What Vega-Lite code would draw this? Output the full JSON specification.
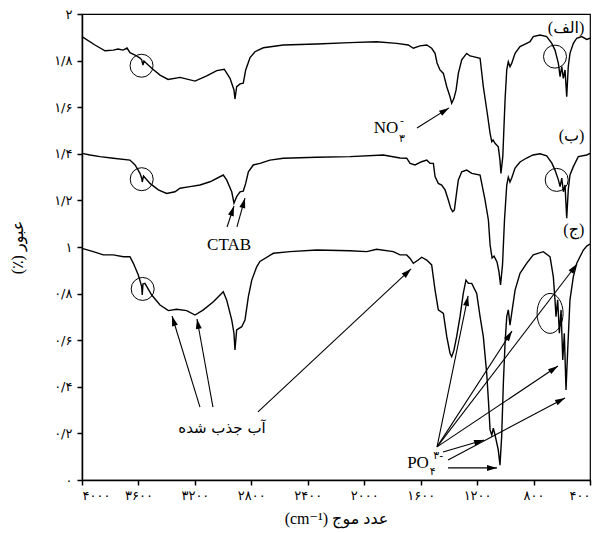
{
  "$schema": "https://vega.github.io/schema/vega-lite/v6.json",
  "width": 508,
  "height": 466,
  "autosize": {"type": "none"},
  "padding": {"left": 82, "top": 14, "right": 10, "bottom": 53},
  "background": "white",
  "config": {
    "view": {"stroke": "black", "strokeWidth": 1.2},
    "axis": {"domainColor": "black", "domainWidth": 1.5, "tickColor": "black", "tickWidth": 1.5, "tickSize": 5, "labelColor": "black", "titleColor": "black", "grid": false, "labelFont": "DejaVu Sans", "labelFontSize": 13, "titleFont": "Liberation Serif, DejaVu Sans", "titleFontSize": 16, "titleFontWeight": "normal"}
  },
  "datasets": {
    "spectra": [
      {"s":"A","wn":4000,"T":1.903},{"s":"A","wn":3908,"T":1.867},{"s":"A","wn":3837,"T":1.842},{"s":"A","wn":3778,"T":1.845},{"s":"A","wn":3745,"T":1.850},{"s":"A","wn":3709,"T":1.845},{"s":"A","wn":3681,"T":1.854},{"s":"A","wn":3660,"T":1.834},{"s":"A","wn":3624,"T":1.824},{"s":"A","wn":3589,"T":1.811},{"s":"A","wn":3577,"T":1.803},{"s":"A","wn":3568,"T":1.781},{"s":"A","wn":3561,"T":1.798},{"s":"A","wn":3506,"T":1.767},{"s":"A","wn":3447,"T":1.738},{"s":"A","wn":3390,"T":1.719},{"s":"A","wn":3305,"T":1.728},{"s":"A","wn":3199,"T":1.712},{"s":"A","wn":3116,"T":1.734},{"s":"A","wn":3045,"T":1.757},{"s":"A","wn":2992,"T":1.763},{"s":"A","wn":2951,"T":1.724},{"s":"A","wn":2923,"T":1.674},{"s":"A","wn":2916,"T":1.635},{"s":"A","wn":2904,"T":1.688},{"s":"A","wn":2880,"T":1.700},{"s":"A","wn":2857,"T":1.703},{"s":"A","wn":2840,"T":1.760},{"s":"A","wn":2809,"T":1.813},{"s":"A","wn":2774,"T":1.838},{"s":"A","wn":2751,"T":1.845},{"s":"A","wn":2715,"T":1.855},{"s":"A","wn":2573,"T":1.867},{"s":"A","wn":2337,"T":1.871},{"s":"A","wn":2101,"T":1.877},{"s":"A","wn":1912,"T":1.881},{"s":"A","wn":1770,"T":1.874},{"s":"A","wn":1688,"T":1.867},{"s":"A","wn":1652,"T":1.853},{"s":"A","wn":1605,"T":1.863},{"s":"A","wn":1557,"T":1.867},{"s":"A","wn":1522,"T":1.853},{"s":"A","wn":1498,"T":1.831},{"s":"A","wn":1484,"T":1.790},{"s":"A","wn":1463,"T":1.760},{"s":"A","wn":1439,"T":1.745},{"s":"A","wn":1415,"T":1.688},{"s":"A","wn":1392,"T":1.645},{"s":"A","wn":1380,"T":1.617},{"s":"A","wn":1364,"T":1.638},{"s":"A","wn":1349,"T":1.674},{"s":"A","wn":1333,"T":1.745},{"s":"A","wn":1309,"T":1.803},{"s":"A","wn":1274,"T":1.831},{"s":"A","wn":1250,"T":1.820},{"s":"A","wn":1227,"T":1.817},{"s":"A","wn":1179,"T":1.810},{"s":"A","wn":1156,"T":1.688},{"s":"A","wn":1128,"T":1.574},{"s":"A","wn":1108,"T":1.488},{"s":"A","wn":1096,"T":1.452},{"s":"A","wn":1087,"T":1.459},{"s":"A","wn":1073,"T":1.445},{"s":"A","wn":1050,"T":1.430},{"s":"A","wn":1038,"T":1.373},{"s":"A","wn":1031,"T":1.316},{"s":"A","wn":1018,"T":1.388},{"s":"A","wn":1002,"T":1.631},{"s":"A","wn":990,"T":1.760},{"s":"A","wn":979,"T":1.795},{"s":"A","wn":967,"T":1.774},{"s":"A","wn":955,"T":1.788},{"s":"A","wn":931,"T":1.831},{"s":"A","wn":896,"T":1.860},{"s":"A","wn":849,"T":1.874},{"s":"A","wn":825,"T":1.881},{"s":"A","wn":802,"T":1.903},{"s":"A","wn":754,"T":1.910},{"s":"A","wn":707,"T":1.903},{"s":"A","wn":671,"T":1.874},{"s":"A","wn":648,"T":1.845},{"s":"A","wn":624,"T":1.788},{"s":"A","wn":612,"T":1.731},{"s":"A","wn":600,"T":1.774},{"s":"A","wn":589,"T":1.724},{"s":"A","wn":577,"T":1.760},{"s":"A","wn":565,"T":1.645},{"s":"A","wn":554,"T":1.774},{"s":"A","wn":542,"T":1.831},{"s":"A","wn":518,"T":1.874},{"s":"A","wn":494,"T":1.896},{"s":"A","wn":459,"T":1.903},{"s":"A","wn":423,"T":1.891},{"s":"A","wn":400,"T":1.896},
      {"s":"B","wn":4000,"T":1.402},{"s":"B","wn":3943,"T":1.395},{"s":"B","wn":3872,"T":1.388},{"s":"B","wn":3778,"T":1.381},{"s":"B","wn":3660,"T":1.373},{"s":"B","wn":3624,"T":1.352},{"s":"B","wn":3589,"T":1.316},{"s":"B","wn":3577,"T":1.295},{"s":"B","wn":3573,"T":1.279},{"s":"B","wn":3564,"T":1.305},{"s":"B","wn":3518,"T":1.273},{"s":"B","wn":3459,"T":1.245},{"s":"B","wn":3400,"T":1.230},{"s":"B","wn":3341,"T":1.237},{"s":"B","wn":3305,"T":1.252},{"s":"B","wn":3235,"T":1.259},{"s":"B","wn":3164,"T":1.266},{"s":"B","wn":3093,"T":1.280},{"s":"B","wn":2999,"T":1.309},{"s":"B","wn":2975,"T":1.288},{"s":"B","wn":2939,"T":1.237},{"s":"B","wn":2923,"T":1.188},{"s":"B","wn":2904,"T":1.216},{"s":"B","wn":2880,"T":1.237},{"s":"B","wn":2857,"T":1.240},{"s":"B","wn":2840,"T":1.273},{"s":"B","wn":2821,"T":1.323},{"s":"B","wn":2786,"T":1.352},{"s":"B","wn":2739,"T":1.359},{"s":"B","wn":2668,"T":1.373},{"s":"B","wn":2573,"T":1.381},{"s":"B","wn":2337,"T":1.385},{"s":"B","wn":2101,"T":1.388},{"s":"B","wn":1865,"T":1.395},{"s":"B","wn":1746,"T":1.382},{"s":"B","wn":1699,"T":1.381},{"s":"B","wn":1675,"T":1.359},{"s":"B","wn":1640,"T":1.352},{"s":"B","wn":1593,"T":1.366},{"s":"B","wn":1557,"T":1.373},{"s":"B","wn":1534,"T":1.359},{"s":"B","wn":1510,"T":1.359},{"s":"B","wn":1498,"T":1.302},{"s":"B","wn":1475,"T":1.273},{"s":"B","wn":1451,"T":1.266},{"s":"B","wn":1427,"T":1.245},{"s":"B","wn":1404,"T":1.202},{"s":"B","wn":1387,"T":1.166},{"s":"B","wn":1373,"T":1.152},{"s":"B","wn":1361,"T":1.159},{"s":"B","wn":1349,"T":1.216},{"s":"B","wn":1333,"T":1.288},{"s":"B","wn":1309,"T":1.323},{"s":"B","wn":1274,"T":1.330},{"s":"B","wn":1238,"T":1.316},{"s":"B","wn":1179,"T":1.309},{"s":"B","wn":1144,"T":1.202},{"s":"B","wn":1120,"T":1.116},{"s":"B","wn":1108,"T":1.009},{"s":"B","wn":1094,"T":0.953},{"s":"B","wn":1080,"T":0.961},{"s":"B","wn":1059,"T":0.936},{"s":"B","wn":1045,"T":0.893},{"s":"B","wn":1034,"T":0.837},{"s":"B","wn":1020,"T":0.923},{"s":"B","wn":1006,"T":1.116},{"s":"B","wn":990,"T":1.266},{"s":"B","wn":979,"T":1.300},{"s":"B","wn":967,"T":1.279},{"s":"B","wn":955,"T":1.296},{"s":"B","wn":931,"T":1.339},{"s":"B","wn":896,"T":1.365},{"s":"B","wn":849,"T":1.382},{"s":"B","wn":804,"T":1.395},{"s":"B","wn":754,"T":1.400},{"s":"B","wn":707,"T":1.391},{"s":"B","wn":671,"T":1.361},{"s":"B","wn":648,"T":1.330},{"s":"B","wn":624,"T":1.288},{"s":"B","wn":612,"T":1.259},{"s":"B","wn":600,"T":1.296},{"s":"B","wn":589,"T":1.237},{"s":"B","wn":577,"T":1.266},{"s":"B","wn":565,"T":1.124},{"s":"B","wn":554,"T":1.245},{"s":"B","wn":542,"T":1.309},{"s":"B","wn":518,"T":1.345},{"s":"B","wn":483,"T":1.388},{"s":"B","wn":423,"T":1.395},{"s":"B","wn":400,"T":1.402},
      {"s":"C","wn":4000,"T":0.994},{"s":"C","wn":3920,"T":0.980},{"s":"C","wn":3849,"T":0.966},{"s":"C","wn":3778,"T":0.966},{"s":"C","wn":3707,"T":0.958},{"s":"C","wn":3660,"T":0.958},{"s":"C","wn":3636,"T":0.930},{"s":"C","wn":3601,"T":0.880},{"s":"C","wn":3577,"T":0.830},{"s":"C","wn":3573,"T":0.794},{"s":"C","wn":3568,"T":0.841},{"s":"C","wn":3554,"T":0.844},{"s":"C","wn":3506,"T":0.794},{"s":"C","wn":3447,"T":0.751},{"s":"C","wn":3388,"T":0.727},{"s":"C","wn":3329,"T":0.733},{"s":"C","wn":3258,"T":0.727},{"s":"C","wn":3199,"T":0.708},{"s":"C","wn":3140,"T":0.730},{"s":"C","wn":3069,"T":0.765},{"s":"C","wn":2999,"T":0.808},{"s":"C","wn":2975,"T":0.773},{"s":"C","wn":2939,"T":0.687},{"s":"C","wn":2923,"T":0.630},{"s":"C","wn":2916,"T":0.558},{"s":"C","wn":2904,"T":0.644},{"s":"C","wn":2868,"T":0.658},{"s":"C","wn":2845,"T":0.687},{"s":"C","wn":2821,"T":0.787},{"s":"C","wn":2797,"T":0.858},{"s":"C","wn":2762,"T":0.915},{"s":"C","wn":2739,"T":0.938},{"s":"C","wn":2644,"T":0.973},{"s":"C","wn":2526,"T":0.980},{"s":"C","wn":2337,"T":0.987},{"s":"C","wn":2101,"T":0.984},{"s":"C","wn":1982,"T":0.980},{"s":"C","wn":1912,"T":0.990},{"s":"C","wn":1794,"T":0.980},{"s":"C","wn":1746,"T":0.966},{"s":"C","wn":1699,"T":0.966},{"s":"C","wn":1675,"T":0.951},{"s":"C","wn":1652,"T":0.930},{"s":"C","wn":1617,"T":0.944},{"s":"C","wn":1593,"T":0.956},{"s":"C","wn":1557,"T":0.944},{"s":"C","wn":1522,"T":0.923},{"s":"C","wn":1498,"T":0.815},{"s":"C","wn":1475,"T":0.730},{"s":"C","wn":1439,"T":0.715},{"s":"C","wn":1415,"T":0.615},{"s":"C","wn":1392,"T":0.544},{"s":"C","wn":1380,"T":0.529},{"s":"C","wn":1364,"T":0.558},{"s":"C","wn":1345,"T":0.615},{"s":"C","wn":1321,"T":0.701},{"s":"C","wn":1298,"T":0.801},{"s":"C","wn":1279,"T":0.858},{"s":"C","wn":1262,"T":0.844},{"s":"C","wn":1238,"T":0.844},{"s":"C","wn":1203,"T":0.801},{"s":"C","wn":1179,"T":0.701},{"s":"C","wn":1156,"T":0.615},{"s":"C","wn":1132,"T":0.458},{"s":"C","wn":1120,"T":0.343},{"s":"C","wn":1108,"T":0.215},{"s":"C","wn":1096,"T":0.193},{"s":"C","wn":1085,"T":0.222},{"s":"C","wn":1073,"T":0.193},{"s":"C","wn":1050,"T":0.129},{"s":"C","wn":1038,"T":0.064},{"s":"C","wn":1026,"T":0.186},{"s":"C","wn":1014,"T":0.415},{"s":"C","wn":1002,"T":0.587},{"s":"C","wn":990,"T":0.701},{"s":"C","wn":979,"T":0.730},{"s":"C","wn":967,"T":0.665},{"s":"C","wn":955,"T":0.715},{"s":"C","wn":931,"T":0.815},{"s":"C","wn":896,"T":0.887},{"s":"C","wn":849,"T":0.930},{"s":"C","wn":802,"T":0.966},{"s":"C","wn":731,"T":0.980},{"s":"C","wn":683,"T":0.958},{"s":"C","wn":660,"T":0.873},{"s":"C","wn":648,"T":0.773},{"s":"C","wn":641,"T":0.701},{"s":"C","wn":629,"T":0.773},{"s":"C","wn":617,"T":0.630},{"s":"C","wn":605,"T":0.730},{"s":"C","wn":593,"T":0.515},{"s":"C","wn":582,"T":0.630},{"s":"C","wn":570,"T":0.386},{"s":"C","wn":558,"T":0.558},{"s":"C","wn":542,"T":0.773},{"s":"C","wn":518,"T":0.873},{"s":"C","wn":494,"T":0.930},{"s":"C","wn":471,"T":0.958},{"s":"C","wn":447,"T":0.987},{"s":"C","wn":423,"T":1.004},{"s":"C","wn":400,"T":1.013}
    ],
    "arrows": [
      {"wn":1399,"T":1.597,"wn2":1626,"T2":1.511},
      {"wn":2923,"T":1.176,"wn2":2972,"T2":1.086},
      {"wn":2845,"T":1.210,"wn2":2902,"T2":1.086},
      {"wn":3362,"T":0.704,"wn2":3164,"T2":0.313},
      {"wn":3185,"T":0.691,"wn2":3072,"T2":0.313},
      {"wn":1668,"T":0.906,"wn2":2753,"T2":0.292},
      {"wn":1264,"T":0.790,"wn2":1484,"T2":0.142},
      {"wn":953,"T":0.639,"wn2":1484,"T2":0.142},
      {"wn":492,"T":0.927,"wn2":1484,"T2":0.142},
      {"wn":627,"T":0.489,"wn2":1484,"T2":0.142},
      {"wn":1151,"T":0.172,"wn2":1442,"T2":0.120},
      {"wn":577,"T":0.352,"wn2":1406,"T2":0.086},
      {"wn":1059,"T":0.052,"wn2":1406,"T2":0.052}
    ],
    "circles": [
      {"wn":3578,"T":1.778},{"wn":3577,"T":1.291},{"wn":3570,"T":0.820},{"wn":648,"T":1.817},{"wn":636,"T":1.288}
    ],
    "ellipses": [{"wn":683,"T":0.715}],
    "latin": [
      {"wn":1846,"T":1.511,"t":"NO"},
      {"wn":2958,"T":1.009,"t":"CTAB"},
      {"wn":1619,"T":0.073,"t":"PO"}
    ],
    "small": [
      {"wn":1732,"T":1.540,"t":"-"},
      {"wn":1732,"T":1.462,"t":"۳"},
      {"wn":1475,"T":0.103,"t":"۳-"},
      {"wn":1515,"T":0.036,"t":"۴"}
    ],
    "corner": [
      {"wn":440,"T":1.940,"t":"‎(الف)‎"},
      {"wn":440,"T":1.476,"t":"‎(ب)‎"},
      {"wn":440,"T":1.073,"t":"‎(ج)‎"}
    ],
    "persian": [
      {"wn":3008,"T":0.223,"t":"آب جذب شده"}
    ]
  },
  "encoding": {
    "x": {"field": "wn", "type": "quantitative", "scale": {"domain": [400, 4000], "reverse": true, "nice": false, "zero": false},
      "axis": {"values": [4000, 3600, 3200, 2800, 2400, 2000, 1600, 1200, 800, 400], "labelExpr": "['۴۰۰۰','۳۶۰۰','۳۲۰۰','۲۸۰۰','۲۴۰۰','۲۰۰۰','۱۶۰۰','۱۲۰۰','۸۰۰','۴۰۰'][round((4000 - datum.value) / 400)]", "labelPadding": 4, "title": "(cm⁻¹) عدد موج", "titlePadding": 8}},
    "y": {"field": "T", "type": "quantitative", "scale": {"domain": [0, 2], "nice": false, "zero": false},
      "axis": {"values": [0, 0.2, 0.4, 0.6, 0.8, 1, 1.2, 1.4, 1.6, 1.8, 2], "labelExpr": "['۰','۰/۲','۰/۴','۰/۶','۰/۸','۱','۱/۲','۱/۴','۱/۶','۱/۸','۲'][round(datum.value * 5)]", "labelPadding": 5, "title": "(٪) عبور", "titlePadding": 28}}
  },
  "layer": [
    {"data": {"name": "spectra"}, "mark": {"type": "line", "color": "black", "strokeWidth": 1.4, "interpolate": "linear"}, "encoding": {"detail": {"field": "s", "type": "nominal"}}},
    {"data": {"name": "arrows"}, "mark": {"type": "rule", "color": "black", "strokeWidth": 1.1}, "encoding": {"x2": {"field": "wn2"}, "y2": {"field": "T2"}}},
    {"data": {"name": "arrows"}, "transform": [{"calculate": "atan2((datum.wn2 - datum.wn) * 0.1411, (datum.T - datum.T2) * 233) * 180 / PI", "as": "ang"}],
      "mark": {"type": "point", "shape": "M0,0L-0.6,2L0.6,2Z", "filled": true, "color": "black", "opacity": 1, "size": 100},
      "encoding": {"angle": {"field": "ang", "type": "quantitative", "scale": null}}},
    {"data": {"name": "circles"}, "mark": {"type": "point", "shape": "circle", "filled": false, "color": "black", "opacity": 1, "strokeWidth": 1, "size": 529}, "encoding": {}},
    {"data": {"name": "ellipses"}, "mark": {"type": "point", "shape": "M-0.65,0A0.65,1,0,1,1,0.65,0A0.65,1,0,1,1,-0.65,0Z", "filled": false, "color": "black", "opacity": 1, "strokeWidth": 1, "size": 1600}, "encoding": {}},
    {"data": {"name": "latin"}, "mark": {"type": "text", "font": "Liberation Serif", "fontSize": 17, "color": "black", "align": "center", "baseline": "middle"}, "encoding": {"text": {"field": "t"}}},
    {"data": {"name": "small"}, "mark": {"type": "text", "font": "DejaVu Sans", "fontSize": 11, "color": "black", "align": "center", "baseline": "middle"}, "encoding": {"text": {"field": "t"}}},
    {"data": {"name": "corner"}, "mark": {"type": "text", "font": "Liberation Serif, DejaVu Sans", "fontSize": 16, "color": "black", "align": "right", "baseline": "middle"}, "encoding": {"text": {"field": "t"}}},
    {"data": {"name": "persian"}, "mark": {"type": "text", "font": "DejaVu Sans", "fontSize": 15, "color": "black", "align": "center", "baseline": "middle"}, "encoding": {"text": {"field": "t"}}}
  ]
}
